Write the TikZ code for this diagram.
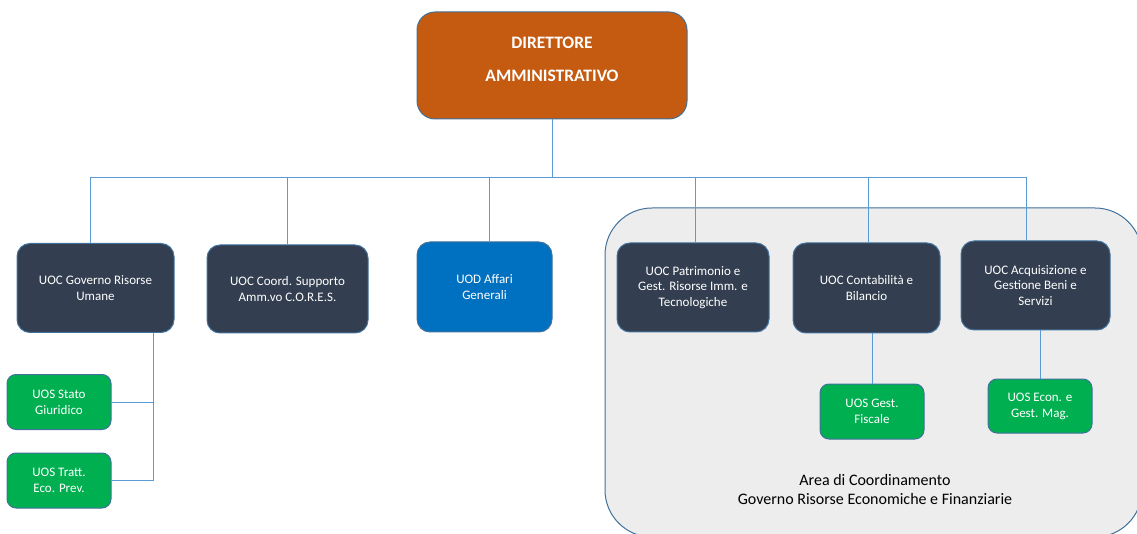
\documentclass[tikz,border=0pt]{standalone}
\usepackage{fontspec}
\setmainfont{Carlito}
\usetikzlibrary{positioning,calc}

\definecolor{dirorange}{HTML}{C55A11}
\definecolor{uocdark}{HTML}{333F50}
\definecolor{uodblue}{HTML}{0070C0}
\definecolor{uosgreen}{HTML}{00B050}
\definecolor{edgeblue}{HTML}{41719C}
\definecolor{linkblue}{HTML}{5B9BD5}
\definecolor{areagray}{HTML}{EDEDED}

\tikzset{
  unitbox/.style={draw=edgeblue, line width=1pt, text=white, align=center,
    inner sep=0pt, font=\fontsize{13}{15.8}\selectfont},
  dirbox/.style={unitbox, fill=dirorange, rounded corners=18pt,
    minimum width=270pt, minimum height=107pt, text depth=12pt,
    font=\fontsize{17.5}{33}\selectfont\bfseries},
  uoc/.style={unitbox, fill=uocdark, rounded corners=13pt, minimum height=89pt},
  uod/.style={unitbox, fill=uodblue, rounded corners=13pt, minimum height=90pt},
  uos/.style={unitbox, fill=uosgreen, rounded corners=9pt,
    minimum width=104pt, minimum height=55pt},
  link/.style={draw=linkblue, line width=0.8pt},
}

\begin{document}
\begin{tikzpicture}[x=1pt, y=-1pt]
    \useasboundingbox (0,0) rectangle (1137,534);

    % Coordination area (runs off the page)
    \begin{scope}
        \clip (0,0) rectangle (1137,534);
        \draw[fill=areagray, draw=edgeblue, line width=1pt, rounded corners=47pt]
            (605,208) rectangle (1142,537);
    \end{scope}
    \node[align=center, font=\fontsize{16}{19}\selectfont] (area) at (875,489.5)
        {Area di Coordinamento\\Governo Risorse Economiche e Finanziarie};

    % Director
    \node[dirbox] (dir) at (552,65.5) {DIRETTORE\\AMMINISTRATIVO};

    % First level units
    \node[uoc, minimum width=157pt] (gov) at (95.5,288) {UOC Governo Risorse\\Umane};
    \node[uoc, minimum width=161pt, minimum height=88pt] (cores) at (287.5,289) {UOC Coord. Supporto\\Amm.vo C.O.R.E.S.};
    \node[uod, minimum width=135pt] (aff) at (484.5,287) {UOD Affari\\Generali};
    \node[uoc, minimum width=152pt] (pat) at (693,287.5) {UOC Patrimonio e\\Gest. Risorse Imm. e\\Tecnologiche};
    \node[uoc, minimum width=147pt, minimum height=90pt] (cont) at (866.5,288) {UOC Contabilità e\\Bilancio};
    \node[uoc, minimum width=149pt] (acq) at (1035.5,285.5) {UOC Acquisizione e\\Gestione Beni e\\Servizi};

    % Second level units
    \node[uos] (stato) at (59,402) {UOS Stato\\Giuridico};
    \node[uos] (tratt) at (59,480.5) {UOS Tratt.\\Eco. Prev.};
    \node[uos] (fisc) at (872,411.5) {UOS Gest.\\Fiscale};
    \node[uos, minimum height=54pt] (mag) at (1040,406) {UOS Econ. e\\Gest. Mag.};

    % Tree from the director
    \coordinate (bar) at ($(dir.south)+(0,58)$);
    \draw[link] (dir.south) -- (bar);
    \draw[link] ([xshift=-5pt]gov.north |- bar) -- ([xshift=-9.5pt]acq.north |- bar);
    \foreach \unit/\dx in {gov/-5,cores/0,aff/5,pat/2,cont/1.5,acq/-9.5} {
        \draw[link] ([xshift=\dx pt]\unit.north) -- ([xshift=\dx pt]\unit.north |- bar);
    }

    % Sub units
    \coordinate (spine) at ($(gov.south)+(57.5,0)$);
    \draw[link] (spine) |- (tratt.east);
    \draw[link] (stato.east) -- (stato.east -| spine);
    \draw[link] (cont.south -| fisc.north) -- (fisc.north);
    \draw[link] (acq.south -| mag.north) -- (mag.north);
\end{tikzpicture}
\end{document}
